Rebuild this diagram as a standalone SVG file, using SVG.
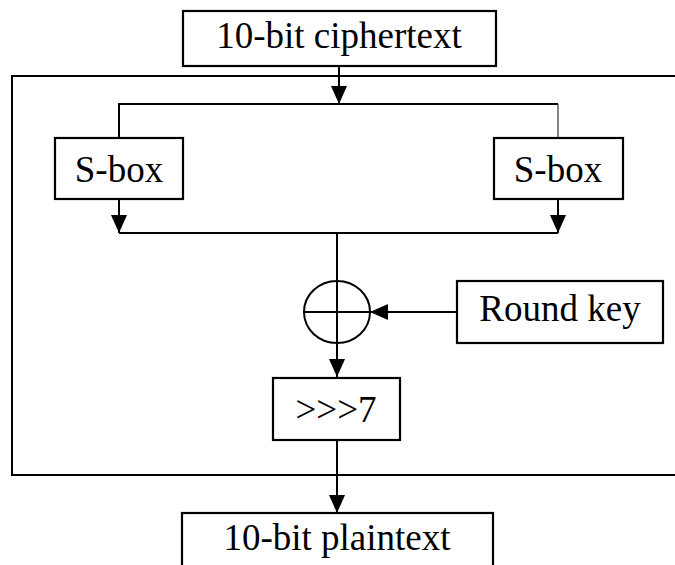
<svg xmlns="http://www.w3.org/2000/svg" width="675" height="565" viewBox="0 0 675 565">
<style>
.box{fill:#fff;stroke:#000;stroke-width:2.2}
.ln{fill:none;stroke:#000;stroke-width:2}
.thin{fill:none;stroke:#444;stroke-width:1.3}
.t{font-family:"Liberation Serif","Times New Roman",serif;font-size:37px;fill:#000;text-anchor:middle}
</style>
<defs>
<marker id="ah" markerUnits="userSpaceOnUse" markerWidth="18" markerHeight="18" viewBox="0 0 18 18" refX="18" refY="9" orient="auto">
<path d="M0,1 L18,9 L0,17 Z" fill="#000"/>
</marker>
</defs>
<rect x="12" y="76" width="670" height="399" class="ln" stroke-width="2.4"/>
<g id="connectors">
<line x1="339" y1="66" x2="339" y2="104" class="ln" marker-end="url(#ah)"/>
<polyline points="119,138 119,104 558,104" class="ln"/>
<line x1="558" y1="104" x2="558" y2="138" class="thin"/>
<line x1="119" y1="199" x2="119" y2="233" class="ln" marker-end="url(#ah)"/>
<line x1="558" y1="199" x2="558" y2="233" class="ln" marker-end="url(#ah)"/>
<line x1="119" y1="233" x2="558" y2="233" class="ln"/>
<line x1="337" y1="233" x2="337" y2="377" class="ln" marker-end="url(#ah)"/>
<line x1="457" y1="312" x2="370" y2="312" class="ln" marker-end="url(#ah)"/>
<line x1="337" y1="440" x2="337" y2="513" class="ln" marker-end="url(#ah)"/>
</g>
<g id="xor">
<ellipse cx="337" cy="312" rx="33" ry="31" class="ln"/>
<line x1="304" y1="312" x2="370" y2="312" class="ln"/>
</g>
<g id="ciphertext">
<rect x="183" y="11" width="313" height="55" class="box"/>
<text x="339" y="48" class="t">10-bit ciphertext</text>
</g>
<g id="sbox-left">
<rect x="55" y="138" width="128" height="61" class="box"/>
<text x="119" y="182" class="t">S-box</text>
</g>
<g id="sbox-right">
<rect x="494" y="138" width="129" height="61" class="box"/>
<text x="558" y="182" class="t">S-box</text>
</g>
<g id="roundkey">
<rect x="457" y="281" width="206" height="62" class="box"/>
<text x="560" y="321" class="t">Round key</text>
</g>
<g id="rotate">
<rect x="273" y="378" width="127" height="62" class="box"/>
<text x="336" y="422" class="t">&gt;&gt;&gt;7</text>
</g>
<g id="plaintext">
<rect x="182" y="513" width="311" height="62" class="box"/>
<text x="337" y="550" class="t">10-bit plaintext</text>
</g>
</svg>
